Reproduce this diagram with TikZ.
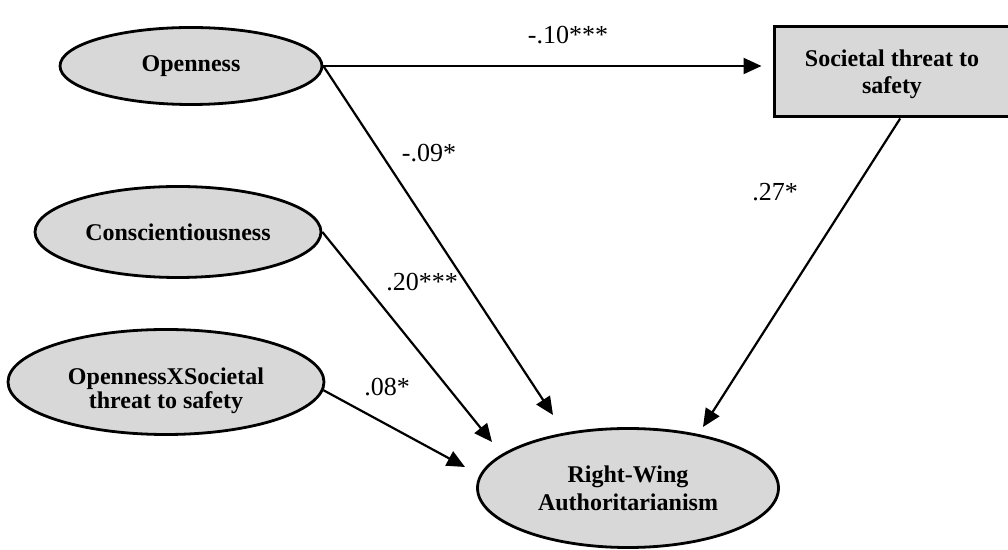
\documentclass[tikz,border=0pt]{standalone}
\usepackage{fontspec}
\setmainfont{Liberation Serif}
\usetikzlibrary{arrows.meta,shapes.geometric}
\definecolor{nodefill}{RGB}{216,216,216}
\tikzset{
  latent/.style={ellipse, draw=black, line width=1.4pt, fill=nodefill, inner sep=0pt,
    align=center, font=\bfseries\fontsize{12}{13.5}\selectfont},
  observed/.style={rectangle, draw=black, line width=1.5pt, fill=nodefill, inner sep=0pt,
    align=center, font=\bfseries\fontsize{12}{13.5}\selectfont},
  path/.style={line width=1.1pt, -{Triangle[length=9pt,width=8pt]}},
  coef/.style={anchor=base, inner sep=0pt, font=\fontsize{13}{15}\selectfont}
}
\begin{document}
\begin{tikzpicture}[x=0.5pt,y=-0.5pt]
\clip (0,0) rectangle (1008,550);
\fill[white] (0,0) rectangle (1008,550);
% nodes
\node[latent, minimum width=131pt, minimum height=38.5pt] (open) at (191,66) {Openness};
\node[latent, minimum width=143pt, minimum height=45.5pt] (consc) at (178,232) {Conscientiousness};
\node[latent, minimum width=158pt, minimum height=52.5pt, font=\bfseries\fontsize{12}{9.5}\selectfont] (ox) at (166,382) {\rule{0pt}{17pt}OpennessXSocietal\\threat to safety};
\node[latent, minimum width=150.5pt, minimum height=59.5pt, font=\bfseries\fontsize{12}{14}\selectfont] (rwa) at (628,488) {Right-Wing\\Authoritarianism};
\node[observed, minimum width=118pt, minimum height=45pt] (threat) at (892,72) {\rule{0pt}{11pt}Societal threat to\\safety};
% arrow tips (short of the target, as in the reference)
\coordinate (tB) at (553,415);
\coordinate (tC) at (492,442);
\coordinate (tD) at (465,467);
\coordinate (tE) at (703,427);
% connectors
\draw[path, shorten >=5.5pt] (open.east) -- (open.east -| threat.west);
\draw[path] (open.east) -- (tB);
\draw[path] (consc.east) -- (tC);
\draw[path] (ox.-3) -- (tD);
\draw[path] (threat.-80) -- (tE);
% coefficients
\node[coef] (c1) at (568,44) {-.10***};
\node[coef] (c2) at (429,162) {-.09*};
\node[coef] (c3) at (422,291) {.20***};
\node[coef] (c4) at (775,201) {.27*};
\node[coef] (c5) at (387,396) {.08*};
\end{tikzpicture}
\end{document}
